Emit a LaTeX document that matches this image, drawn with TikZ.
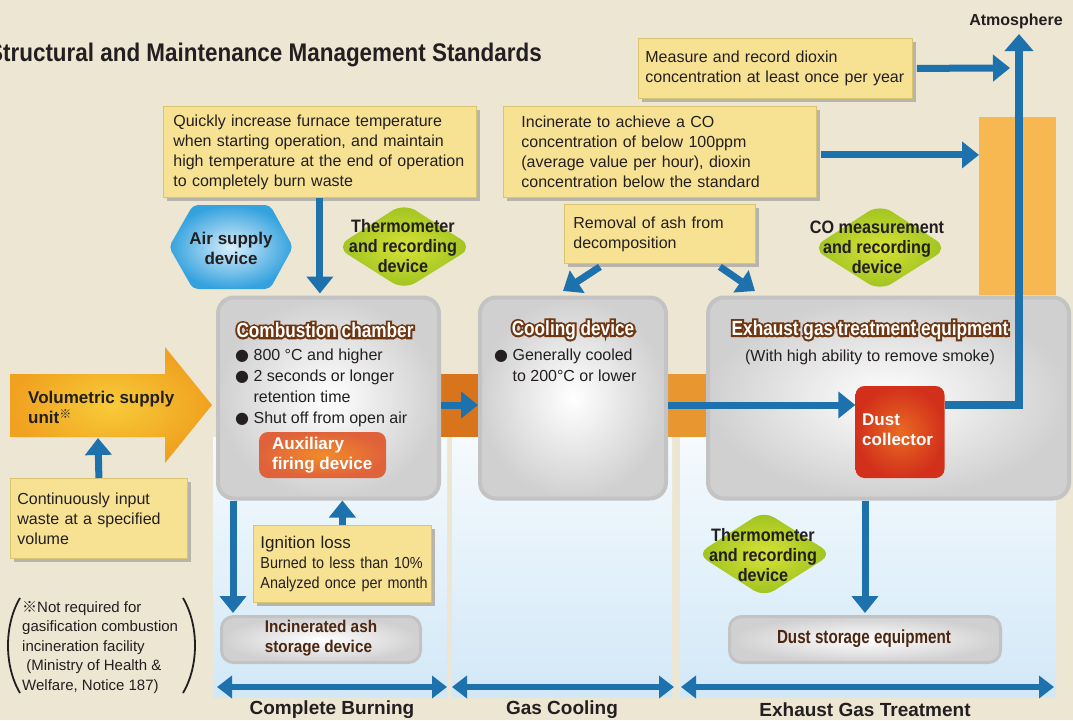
\documentclass[tikz,border=0pt]{standalone}
\usepackage{fontspec}
\setmainfont{Liberation Sans}
\newfontfamily\condf[FakeStretch=0.8]{Liberation Sans}
\newfontfamily\hdf[FakeStretch=0.84]{Liberation Sans}
\newfontfamily\titlef[FakeStretch=0.88]{Liberation Sans}
\newfontfamily\hdoutf[FakeStretch=0.84,FakeBold=19]{Liberation Sans}
\newfontfamily\semif[FakeStretch=0.9]{Liberation Sans}
\newfontfamily\symf{DejaVu Sans}
\newfontfamily\cjkf{Noto Sans CJK JP}
\usetikzlibrary{arrows.meta,shadows}
\definecolor{bg}{HTML}{EDE6D3}
\definecolor{ink}{HTML}{231F20}
\definecolor{notey}{HTML}{F7E293}
\definecolor{noteline}{HTML}{D9C472}
\definecolor{shadowc}{HTML}{B7B4AC}
\definecolor{arrowblue}{HTML}{1D71AD}
\definecolor{colTop}{HTML}{F5FAFD}
\definecolor{colBot}{HTML}{D2E8F7}
\definecolor{bandA}{HTML}{D8741B}
\definecolor{bandB}{HTML}{E8962F}
\definecolor{chimc}{HTML}{F8B851}
\definecolor{arrowin}{HTML}{F8CB3A}
\definecolor{arrowout}{HTML}{F0A11F}
\definecolor{boxline}{HTML}{C3C3C3}
\definecolor{boxgray}{HTML}{D0D0D0}
\definecolor{brownline}{HTML}{6E3712}
\definecolor{browntext}{HTML}{4B2611}
\definecolor{dustin}{HTML}{EA6A22}
\definecolor{dustout}{HTML}{D2301B}
\definecolor{auxin}{HTML}{F18B2B}
\definecolor{auxout}{HTML}{E0623A}
\definecolor{hexin}{HTML}{D9EEFB}
\definecolor{hexout}{HTML}{34A2DE}
\definecolor{grin}{HTML}{D7E236}
\definecolor{grout}{HTML}{9CC11F}
\tikzset{
  note/.style={draw=noteline, line width=0.8pt, fill=notey, anchor=north west, align=left,
    inner xsep=10pt, inner ysep=0pt, font=\fontsize{16}{20}\selectfont, text=ink,
    general shadow={fill=shadowc, shadow xshift=4pt, shadow yshift=-4pt}},
  graybox/.style={draw=boxline, line width=4pt, rounded corners=16pt, inner color=white, outer color=boxgray},
  smallbox/.style={draw=boxline, line width=3pt, rounded corners=12pt, inner color=white, outer color=boxgray},
  hdfont/.style={font=\hdf\bfseries\fontsize{20.5}{22}\selectfont},
  hdoutfont/.style={font=\hdoutf\bfseries\fontsize{20.5}{22}\selectfont},
  flow/.style={draw=arrowblue, line width=7pt, -{Triangle[length=17pt,width=26pt]}},
  dflow/.style={draw=arrowblue, line width=6pt, {Triangle[length=15pt,width=22pt]}-{Triangle[length=15pt,width=22pt]}},
  body/.style={font=\fontsize{16}{21}\selectfont, align=left, anchor=north west},
  dtext/.style={font=\semif\bfseries\fontsize{18}{20}\selectfont, align=center},
  botlabel/.style={font=\bfseries\fontsize{19}{22}\selectfont}
}
\newcommand\hd[4]{%
  \node[hdoutfont, text=brownline] at (#2,#3) {#4};
  \node[hdfont, text=white] (#1) at (#2,#3) {#4};}
\begin{document}
\begin{tikzpicture}[x=1pt,y=-1pt, every node/.style={inner sep=0pt, text=ink}]
\useasboundingbox (0,0) rectangle (1073,720);
\fill[bg] (0,0) rectangle (1073,720);
% columns
\shade[top color=colTop, bottom color=colBot] (213,437) rectangle (447,697);
\shade[top color=colTop, bottom color=colBot] (452,437) rectangle (672,697);
\shade[top color=colTop, bottom color=colBot] (680,437) rectangle (1056,697);
% orange band
\fill[bandA] (420,374) rectangle (480,437);
\fill[bandB] (660,374) rectangle (712,437);
% chimney
\node[fill=chimc, minimum width=77pt, minimum height=178pt, anchor=north west] (chim) at (979,117) {};
% big supply arrow
\shade[inner color=arrowin, outer color=arrowout] (10,374) -- (165,374) -- (165,347) -- (212,405) -- (165,463) -- (165,437) -- (10,437) -- cycle;
\node[anchor=north west, align=left, font=\bfseries\fontsize{17}{20}\selectfont] (vsu) at (28,391)
  {Volumetric supply\\unit\raisebox{5pt}{\cjkf\fontsize{12}{12}\selectfont ※}};
\coordinate (vsutail) at (98,438);
% title
\node[anchor=east, font=\titlef\bfseries\fontsize{25.5}{28}\selectfont] (title) at (542,55) {Structural and Maintenance Management Standards};
\node[font=\bfseries\fontsize{16}{18}\selectfont] (atm) at (1016,21) {Atmosphere};
% gray boxes
\node[graybox, minimum width=221pt, minimum height=201pt] (comb) at (328.5,398) {};
\node[graybox, minimum width=186pt, minimum height=201pt] (cool) at (573,398) {};
\node[graybox, minimum width=361pt, minimum height=201pt] (exh) at (888.5,398) {};
\node[smallbox, minimum width=199pt, minimum height=46pt] (ash) at (321,639.5) {};
\node[smallbox, minimum width=271pt, minimum height=46pt] (dstore) at (865,639.5) {};
\node[align=left, font=\semif\bfseries\fontsize{17}{20}\selectfont, text=browntext] (asht) at (321,638) {Incinerated ash\\storage device};
\node[font=\condf\bfseries\fontsize{19}{22}\selectfont, text=browntext] (dstoret) at (864,639) {Dust storage equipment};
% inner coloured boxes
\node[rounded corners=9pt, inner color=dustin, outer color=dustout, minimum width=89pt, minimum height=92pt] (dust) at (900,432) {};
\node[anchor=north west, align=left, text=white, font=\bfseries\fontsize{17}{20}\selectfont] (dustt) at (862,414) {Dust\\collector};
\node[rounded corners=9pt, inner color=auxin, outer color=auxout, minimum width=127pt, minimum height=46pt] (aux) at (322.5,455) {};
\node[anchor=north west, align=left, text=white, font=\bfseries\fontsize{17}{20}\selectfont] (auxt) at (272,437) {Auxiliary\\firing device};
% headings
\hd{combh}{325}{330}{Combustion chamber}
\hd{coolh}{573}{330}{Cooling device}
\hd{exhh}{870}{330}{Exhaust gas treatment equipment}
% box texts
\node[body] (combt) at (235,349) {{\symf ●} 800 °C and higher\\{\symf ●} 2 seconds or longer\\\phantom{{\symf ●} }retention time\\{\symf ●} Shut off from open air};
\node[body] (coolt) at (494,349) {{\symf ●} Generally cooled\\\phantom{{\symf ●} }to 200°C or lower};
\node[font=\fontsize{16}{20}\selectfont] (exht) at (870,357) {(With high ability to remove smoke)};
% notes
\node[note, minimum width=313pt, minimum height=91pt, text width=293pt] (quick) at (163,106)
  {\mbox{Quickly increase furnace temperature}\\\mbox{when starting operation, and maintain}\\\mbox{high temperature at the end of operation}\\\mbox{to completely burn waste}};
\node[note, inner xsep=18pt, minimum width=313pt, minimum height=91pt, text width=277pt] (inc) at (503,106)
  {\mbox{Incinerate to achieve a CO}\\\mbox{concentration of below 100ppm}\\\mbox{(average value per hour), dioxin}\\\mbox{concentration below the standard}};
\node[note, inner xsep=7pt, minimum width=274pt, minimum height=60pt, text width=260pt] (meas) at (638,38)
  {\mbox{Measure and record dioxin}\\\mbox{concentration at least once per year}};
\node[note, inner xsep=9pt, minimum width=191pt, minimum height=59pt, text width=173pt] (rem) at (564,204)
  {\mbox{Removal of ash from}\\\mbox{decomposition}};
\node[note, inner xsep=7pt, minimum width=177pt, minimum height=80pt, text width=163pt] (cont) at (10,478)
  {\mbox{Continuously input}\\\mbox{waste at a specified}\\\mbox{volume}};
\node[note, inner xsep=7pt, minimum width=178pt, minimum height=77pt, text width=164pt] (ign) at (253,525)
  {\mbox{\fontsize{17}{20}\selectfont Ignition loss}\\\mbox{\semif\fontsize{16}{20}\selectfont Burned to less than 10\%}\\\mbox{\semif\fontsize{16}{20}\selectfont Analyzed once per month}};
% hexagon & diamonds
\shade[inner color=hexin, outer color=hexout, rounded corners=5pt] (169,247) -- (193,205) -- (270,205) -- (293,247) -- (270,289) -- (193,289) -- cycle;
\node[align=center, font=\bfseries\fontsize{17}{20}\selectfont] (air) at (231,248) {Air supply\\device};
\shade[inner color=grin, outer color=grout, rounded corners=14pt] (336,247) -- (404,203) -- (473,247) -- (404,290) -- cycle;
\node[dtext] (therm1) at (403,246) {Thermometer\\and recording\\device};
\shade[inner color=grin, outer color=grout, rounded corners=14pt] (812,248) -- (880,204) -- (948,248) -- (880,291) -- cycle;
\node[dtext] (co) at (877,247) {CO measurement\\and recording\\device};
\shade[inner color=grin, outer color=grout, rounded corners=12pt] (697,554) -- (764,511) -- (832,554) -- (764,597) -- cycle;
\node[dtext] (therm2) at (763,555) {Thermometer\\and recording\\device};
% flow arrows
\coordinate (flowy) at (0,405);
\coordinate (stack) at (1019,34);
\coordinate (measend) at (1010,68);
\coordinate (ashx) at (233,0);
\coordinate (remL) at (563,291);
\coordinate (remR) at (755,291);
\draw[flow] (cont.north) -- (vsutail);
\draw[flow, shorten >=2pt] (quick.south) -- (quick.south |- comb.north);
\draw[flow] (comb.east |- flowy) -- (cool.west |- flowy);
\draw[flow] (cool.east |- flowy) -- (dust.west |- flowy);
\draw[flow, line width=8pt, -{Triangle[length=17pt,width=28pt]}] (dust.east |- flowy) -| (stack);
\draw[flow, shorten <=4pt] (meas.east) -- (measend);
\draw[flow, shorten <=4pt] ([yshift=-3pt]inc.east) -- ([yshift=-3pt]inc.east -| chim.west);
\draw[flow] ([xshift=-60pt,yshift=-3pt]rem.south) -- (remL);
\draw[flow] ([xshift=60pt,yshift=-3pt]rem.south) -- (remR);
\draw[flow, shorten >=2pt] (comb.south -| ashx) -- (ash.north -| ashx);
\draw[flow] (ign.north) -- (ign.north |- comb.south);
\draw[flow, shorten >=2pt] (dstore.north |- exh.south) -- (dstore.north);
% footnote
\draw[line width=1.8pt, ink] (20,598) .. controls (4,625) and (4,666) .. (20,693);
\draw[line width=1.8pt, ink] (183,598) .. controls (199,625) and (199,666) .. (183,693);
\node[anchor=north west, align=left, font=\fontsize{15}{19.5}\selectfont] (fn) at (22,601)
  {{\cjkf ※}Not required for\\gasification combustion\\incineration facility\\\ (Ministry of Health \&\\Welfare, Notice 187)};
% stage arrows and labels
\coordinate (c1a) at (217,687); \coordinate (c1b) at (447,687);
\coordinate (c2a) at (452,687); \coordinate (c2b) at (674,687);
\coordinate (c3a) at (681,687); \coordinate (c3b) at (1054,687);
\draw[dflow] (c1a) -- (c1b);
\draw[dflow] (c2a) -- (c2b);
\draw[dflow] (c3a) -- (c3b);
\node[botlabel] (lb1) at (332,710) {Complete Burning};
\node[botlabel] (lb2) at (562,710) {Gas Cooling};
\node[botlabel] (lb3) at (865,710) {Exhaust Gas Treatment};
\end{tikzpicture}
\end{document}
